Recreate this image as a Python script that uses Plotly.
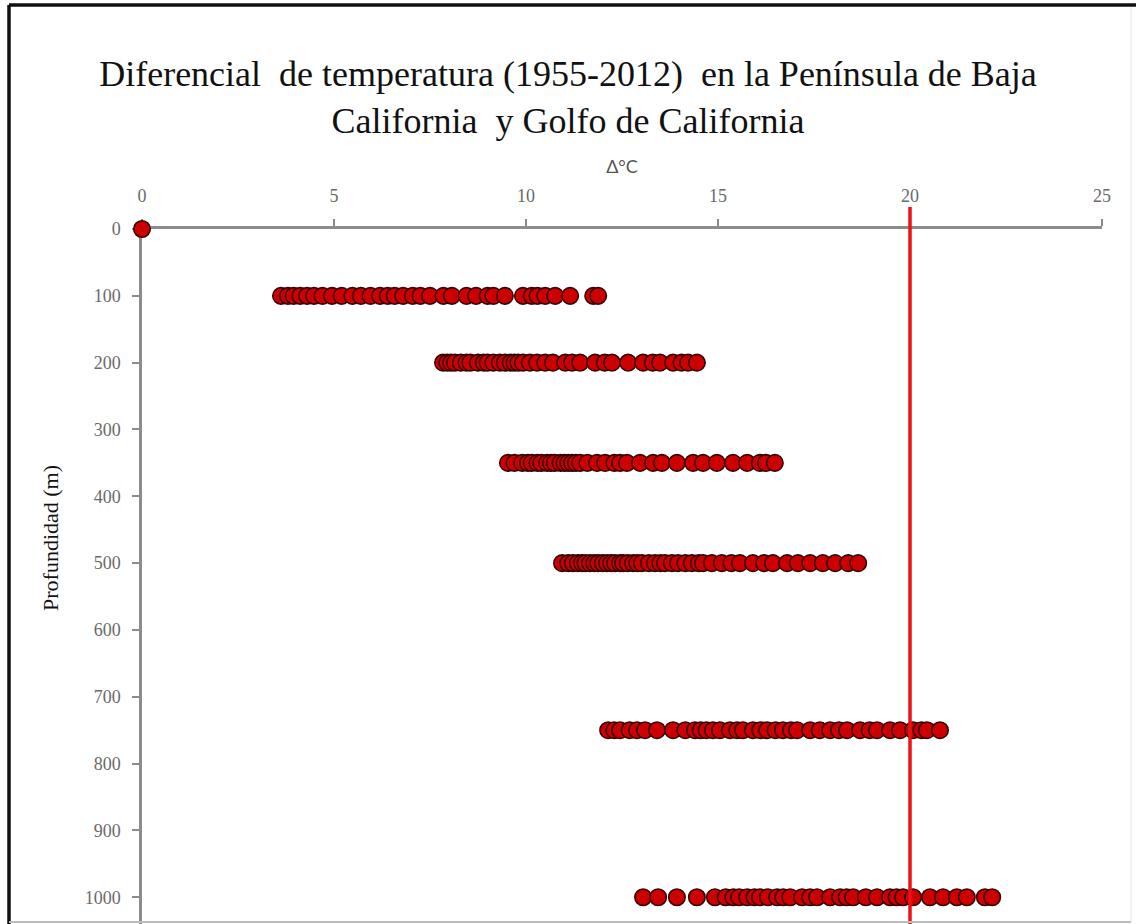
import plotly.graph_objects as go

# Data
depth_0 = [0.0]
depth_100 = [3.62, 3.80, 3.95, 4.12, 4.30, 4.48, 4.70, 4.95, 5.20, 5.48, 5.70, 5.95, 6.20, 6.40,
             6.58, 6.80, 7.05, 7.25, 7.50, 7.85, 8.07, 8.45, 8.70, 9.00, 9.15, 9.45, 9.92, 10.15,
             10.30, 10.50, 10.76, 11.15, 11.75, 11.88]
depth_200 = [7.84, 7.95, 8.05, 8.15, 8.30, 8.45, 8.55, 8.75, 8.90, 9.00, 9.15, 9.32, 9.45, 9.60,
             9.70, 9.80, 9.92, 10.10, 10.29, 10.50, 10.70, 11.02, 11.20, 11.41, 11.80, 12.05,
             12.24, 12.66, 13.05, 13.30, 13.49, 13.83, 14.05, 14.22, 14.45]
depth_350 = [9.53, 9.70, 9.90, 10.05, 10.15, 10.30, 10.40, 10.55, 10.65, 10.75, 10.90, 11.00,
             11.10, 11.20, 11.30, 11.41, 11.60, 11.85, 12.06, 12.30, 12.45, 12.63, 12.97, 13.31,
             13.54, 13.93, 14.35, 14.61, 14.97, 15.39, 15.76, 16.09, 16.25, 16.48]
depth_500 = [10.94, 11.10, 11.22, 11.35, 11.46, 11.55, 11.67, 11.78, 11.88, 12.00, 12.11, 12.22,
             12.32, 12.45, 12.53, 12.65, 12.79, 12.90, 13.02, 13.20, 13.36, 13.50, 13.62, 13.80,
             13.96, 14.15, 14.32, 14.50, 14.61, 14.84, 15.10, 15.35, 15.57, 15.91, 16.20, 16.43,
             16.80, 17.08, 17.40, 17.73, 18.05, 18.39, 18.65]
depth_750 = [12.14, 12.30, 12.45, 12.70, 12.89, 13.10, 13.41, 13.83, 14.15, 14.40, 14.55, 14.70,
             14.87, 15.05, 15.31, 15.50, 15.65, 15.91, 16.10, 16.28, 16.50, 16.69, 16.90, 17.06,
             17.40, 17.65, 17.92, 18.15, 18.36, 18.70, 18.95, 19.14, 19.48, 19.74, 20.08, 20.30,
             20.44, 20.78]
depth_1000 = [13.05, 13.44, 13.93, 14.45, 14.92, 15.20, 15.40, 15.55, 15.76, 15.95, 16.09, 16.30,
              16.54, 16.70, 16.88, 17.19, 17.40, 17.58, 17.92, 18.18, 18.35, 18.52, 18.85, 19.14,
              19.48, 19.65, 19.82, 20.08, 20.52, 20.86, 21.22, 21.48, 21.95, 22.14]

depths = [0, 100, 200, 350, 500, 750, 1000]
rows = [depth_0, depth_100, depth_200, depth_350, depth_500, depth_750, depth_1000]
threshold = 20

xs, ys = [], []
for d, r in zip(depths, rows):
    xs += r
    ys += [d] * len(r)

fig = go.Figure()
fig.add_trace(go.Scatter(
    x=xs, y=ys, mode="markers", cliponaxis=False, showlegend=False,
    marker=dict(size=16.5, color="#cc0000", line=dict(color="#380000", width=1.6)),
))

# plot area: x 142..1102, y 229..924
L, R, T, B = 142, 1102, 229, 924
W, H = R - L, B - T

def px(x):
    return (x - L) / W

def py(y):
    return (B - y) / H

shapes = [
    dict(type="line", xref="x", yref="paper", x0=threshold, x1=threshold, y0=0, y1=py(207),
         line=dict(color="#ee1111", width=3.5), layer="above"),
    # outer frame
    dict(type="line", xref="paper", yref="paper", x0=px(9), x1=px(1136), y0=py(5), y1=py(5),
         line=dict(color="#111111", width=3.5)),
    dict(type="line", xref="paper", yref="paper", x0=px(9), x1=px(9), y0=py(5), y1=py(924),
         line=dict(color="#111111", width=3.5)),
    dict(type="line", xref="paper", yref="paper", x0=px(1131), x1=px(1131), y0=py(7), y1=py(922),
         line=dict(color="#ececec", width=1.5)),
    dict(type="line", xref="paper", yref="paper", x0=px(9), x1=px(1131), y0=py(922), y1=py(922),
         line=dict(color="#bdbdbd", width=2)),
]

fig.update_layout(
    width=1136, height=924,
    margin=dict(l=L, r=1136 - R, t=T, b=0),
    paper_bgcolor="white", plot_bgcolor="white",
    title=dict(
        text="Diferencial\u00a0 de temperatura (1955-2012)\u00a0 en la Península de Baja<br>California\u00a0 y Golfo de California",
        x=0.5, xref="container", xanchor="center",
        y=1 - 86 / 924, yref="container", yanchor="middle",
        font=dict(family="Liberation Serif, Times New Roman, serif", size=36, color="#111111"),
    ),
    xaxis=dict(
        side="top", range=[0, 25], tickvals=[0, 5, 10, 15, 20, 25],
        showgrid=False, zeroline=False, showline=True, linecolor="#8c8c8c", linewidth=2.5,
        ticks="outside", ticklen=7, tickwidth=1.5, tickcolor="#8c8c8c",
        ticklabelstandoff=10, layer="below traces",
        tickfont=dict(family="Liberation Serif, serif", size=18, color="#6a6a6a"),
        title=dict(text="Δ°C", standoff=8,
                   font=dict(family="Lato, DejaVu Sans, sans-serif", size=18, color="#555555")),
    ),
    yaxis=dict(
        range=[1040, 0], tickvals=[0, 100, 200, 300, 400, 500, 600, 700, 800, 900, 1000],
        showgrid=False, zeroline=False, showline=True, linecolor="#8c8c8c", linewidth=2.5,
        ticks="outside", ticklen=7, tickwidth=1.5, tickcolor="#8c8c8c",
        ticklabelstandoff=8, layer="below traces",
        tickfont=dict(family="Liberation Serif, serif", size=18, color="#6a6a6a"),
    ),
    shapes=shapes,
    annotations=[dict(
        text="Profundidad (m)", textangle=-90, xref="paper", yref="paper",
        x=px(50), y=py(538), xanchor="center", yanchor="middle", showarrow=False,
        font=dict(family="Liberation Serif, Times New Roman, serif", size=22, color="#111111"),
    )],
)

fig.write_html("out.html")
